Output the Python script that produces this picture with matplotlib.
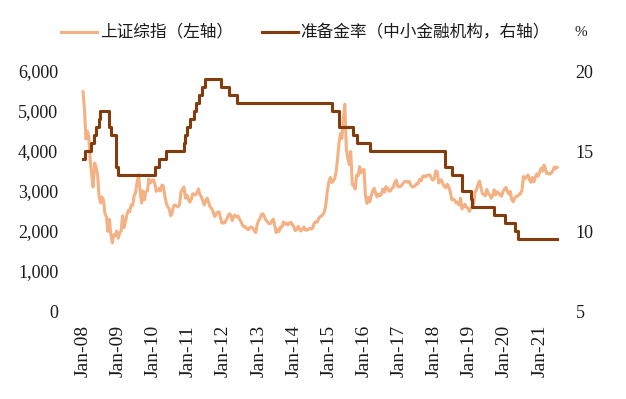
import matplotlib
matplotlib.use('Agg')
import matplotlib.pyplot as plt
import matplotlib.dates as mdates
import pandas as pd
from matplotlib.lines import Line2D

plt.rcParams['font.family'] = ['Liberation Serif', 'Noto Sans CJK SC']

# ---------------- data ----------------
# Shanghai Composite, semi-monthly readings (1st and 15th of each month)
sse_2008 = [5480, 5100, 4300, 4500, 4350, 3800, 3400, 3100, 3700, 3600, 3400, 2900,
            2700, 2850, 2780, 2450, 2350, 1990, 2290, 1950, 1700, 1900, 1880, 2000]
sse_2009 = [1820, 1950, 2000, 2380, 2080, 2200, 2400, 2510, 2480, 2650, 2640, 2880,
            2960, 3200, 3410, 3050, 2700, 3000, 2780, 2980, 3000, 3300, 3200, 3250]
sse_2010 = [3280, 3200, 2990, 3020, 3060, 3000, 3150, 3130, 2870, 2700, 2600, 2560,
            2380, 2450, 2640, 2650, 2620, 2600, 2660, 2970, 3050, 3100, 2820, 2900]
sse_2011 = [2810, 2720, 2800, 2930, 2920, 2900, 2960, 3050, 2910, 2860, 2740, 2650,
            2760, 2820, 2700, 2600, 2560, 2480, 2360, 2420, 2470, 2480, 2330, 2200]
sse_2012 = [2200, 2210, 2290, 2350, 2430, 2400, 2260, 2360, 2400, 2350, 2370, 2300,
            2230, 2150, 2100, 2110, 2050, 2030, 2090, 2100, 2070, 2010, 1960, 2150]
sse_2013 = [2270, 2310, 2420, 2430, 2360, 2280, 2230, 2190, 2180, 2240, 2300, 2160,
            1960, 2040, 1990, 2100, 2100, 2230, 2170, 2200, 2150, 2200, 2220, 2160]
sse_2014 = [2110, 2010, 2030, 2120, 2050, 2000, 2040, 2100, 2030, 2020, 2040, 2070,
            2050, 2070, 2200, 2230, 2220, 2310, 2360, 2370, 2420, 2480, 2680, 3000]
sse_2015 = [3230, 3340, 3210, 3250, 3310, 3450, 3810, 4190, 4440, 4310, 4830, 5170,
            4050, 3820, 3660, 3990, 3160, 3150, 3050, 3390, 3380, 3610, 3450, 3520]
sse_2016 = [3540, 2900, 2690, 2840, 2730, 2870, 3010, 3070, 2940, 2850, 2920, 2880,
            2930, 3050, 2970, 3110, 3070, 3000, 3000, 3060, 3100, 3210, 3270, 3120]
sse_2017 = [3100, 3110, 3160, 3210, 3240, 3240, 3220, 3240, 3150, 3100, 3110, 3130,
            3190, 3180, 3290, 3250, 3360, 3380, 3350, 3390, 3400, 3400, 3320, 3270]
sse_2018 = [3310, 3500, 3480, 3200, 3260, 3280, 3170, 3110, 3080, 3170, 3100, 2990,
            2780, 2800, 2770, 2700, 2720, 2650, 2820, 2550, 2610, 2670, 2590, 2570]
sse_2019 = [2490, 2570, 2620, 2680, 2990, 3020, 3170, 3250, 3080, 2940, 2900, 2880,
            3040, 2940, 2900, 2820, 2890, 3030, 2900, 2980, 2950, 2900, 2870, 2980]
sse_2020 = [3050, 3090, 2980, 2920, 2990, 2790, 2730, 2820, 2860, 2870, 2920, 2930,
            3030, 3360, 3310, 3360, 3400, 3280, 3220, 3340, 3230, 3340, 3430, 3370]
sse_2021 = [3470, 3570, 3500, 3650, 3550, 3440, 3440, 3420, 3450, 3500, 3600, 3560, 3590]

sse_values = (sse_2008 + sse_2009 + sse_2010 + sse_2011 + sse_2012 + sse_2013 + sse_2014 +
              sse_2015 + sse_2016 + sse_2017 + sse_2018 + sse_2019 + sse_2020 + sse_2021)
sse_dates = list(pd.date_range('2008-01-01', '2021-06-15', freq='SMS')) + [pd.Timestamp('2021-06-30')]

# Reserve requirement ratio (small & medium institutions), change dates
rrr_dates = ['2008-01-01', '2008-01-25', '2008-03-25', '2008-04-25', '2008-05-20', '2008-06-15',
             '2008-06-25', '2008-09-25', '2008-10-15', '2008-12-05', '2008-12-25', '2010-01-18',
             '2010-02-25', '2010-05-10', '2010-11-16', '2010-11-29', '2010-12-20', '2011-01-20',
             '2011-02-24', '2011-03-25', '2011-04-21', '2011-05-18', '2011-06-20', '2011-12-05',
             '2012-02-24', '2012-05-18', '2015-02-05', '2015-04-20', '2015-09-06', '2015-10-24',
             '2016-03-01', '2018-04-25', '2018-07-05', '2018-10-15', '2019-01-15', '2019-01-25',
             '2019-09-16', '2020-01-06', '2020-04-15', '2020-05-15', '2021-06-30']
rrr_values = [14.5, 15.0, 15.5, 16.0, 16.5, 17.0,
              17.5, 16.5, 16.0, 14.0, 13.5, 14.0,
              14.5, 15.0, 15.5, 16.0, 16.5, 17.0,
              17.5, 18.0, 18.5, 19.0, 19.5, 19.0,
              18.5, 18.0, 17.5, 16.5, 16.0, 15.5,
              15.0, 14.0, 13.5, 12.5, 12.0, 11.5,
              11.0, 10.5, 10.0, 9.5, 9.5]

x_tick_years = list(range(2008, 2022))
x_tick_labels = ['Jan-%02d' % (y % 100) for y in x_tick_years]
left_ticks = [0, 1000, 2000, 3000, 4000, 5000, 6000]
left_labels = ['0', '1,000', '2,000', '3,000', '4,000', '5,000', '6,000']
right_ticks = [5, 10, 15, 20]
right_labels = ['5', '10', '15', '20']

label_sse = '上证综指（左轴）'
label_rrr = '准备金率（中小金融机构，右轴）'

# ---------------- styling ----------------
ORANGE = '#F4B183'
BROWN = '#843C0C'
TXT = '#1a1a1a'
W, H = 626, 399
L, R, T, B = 70, 565, 71, 311

fig = plt.figure(figsize=(W / 100, H / 100), dpi=100)
ax = fig.add_axes([L / W, 1 - B / H, (R - L) / W, (B - T) / H])
ax2 = ax.twinx()

ax.plot(sse_dates, sse_values, color=ORANGE, lw=2.2, solid_joinstyle='round')
ax2.step(pd.to_datetime(rrr_dates), rrr_values, where='post', color=BROWN, lw=2.2)

ppd = 35.13 / 365.25
x0 = mdates.date2num(pd.Timestamp('2008-01-01'))
ax.set_xlim(x0 - (83 - L) / ppd, x0 + (R - 83) / ppd)
ax.set_ylim(0, 6000)
ax2.set_ylim(5, 20)

ax.set_xticks([mdates.date2num(pd.Timestamp(f'{y}-01-01')) for y in x_tick_years])
ax.set_xticklabels(x_tick_labels, rotation=90, fontsize=14, color=TXT)
ax.set_yticks(left_ticks)
ax.set_yticklabels(left_labels, fontsize=13, color=TXT)
ax2.set_yticks(right_ticks)
ax2.set_yticklabels(right_labels, fontsize=13, color=TXT)

for a in (ax, ax2):
    for s in a.spines.values():
        s.set_visible(False)
ax.tick_params(axis='x', length=0, pad=10)
ax.tick_params(axis='y', length=0, pad=8.5)
ax2.tick_params(axis='y', length=0, pad=7.5)

# legend (manual)
ly = 1 - 32.3 / H
fig.add_artist(Line2D([60.7 / W, 96.7 / W], [ly, ly], color=ORANGE, lw=2.2))
fig.text(100 / W, ly, label_sse, ha='left', va='center', fontsize=12,
         family=['Noto Sans CJK SC'], color=TXT)
fig.add_artist(Line2D([261.7 / W, 297.5 / W], [ly, ly], color=BROWN, lw=2.2))
fig.text(300 / W, ly, label_rrr, ha='left', va='center', fontsize=12,
         family=['Noto Sans CJK SC'], color=TXT)
fig.text(581 / W, ly, '%', ha='center', va='center', fontsize=11, color=TXT)

fig.savefig('out.png', dpi=100)
